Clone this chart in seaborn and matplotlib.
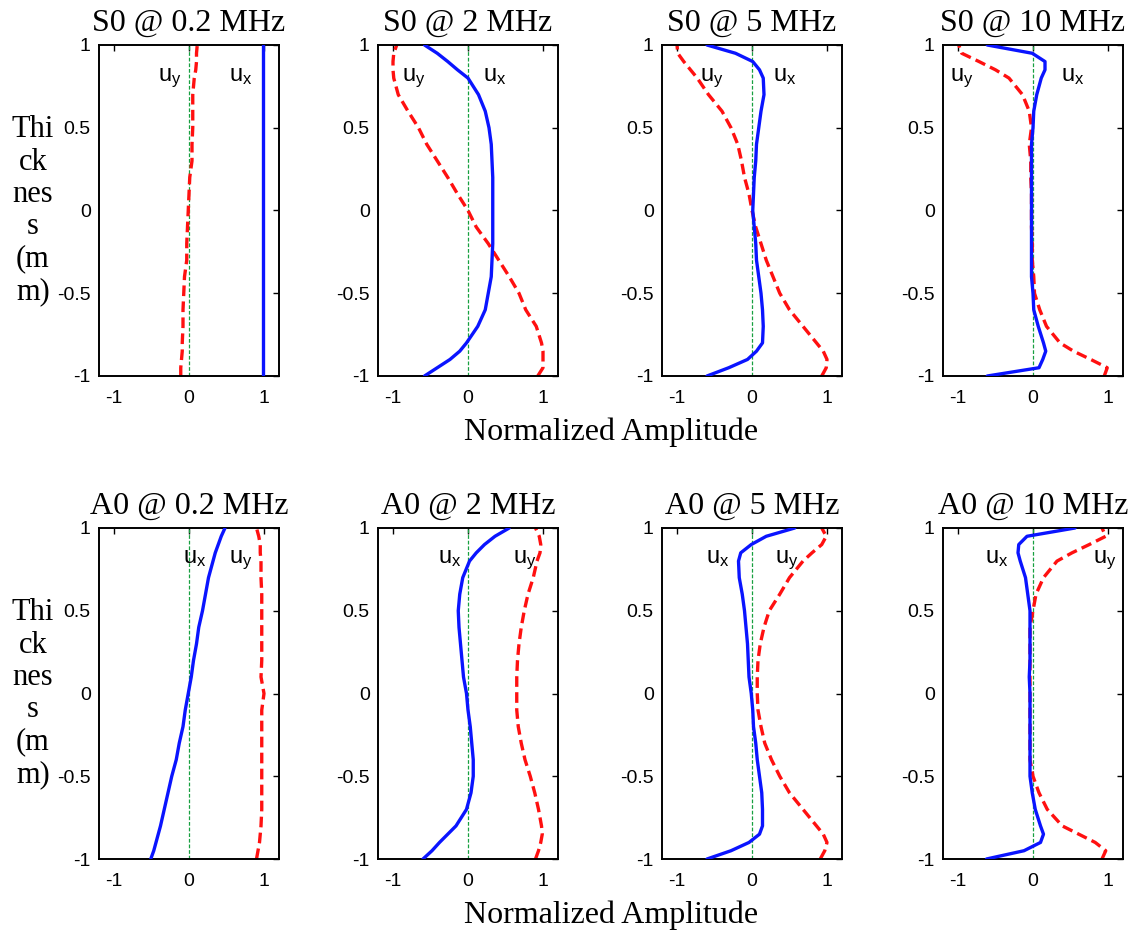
import matplotlib
matplotlib.use('Agg')
import numpy as np
import pandas as pd
import matplotlib.pyplot as plt
import seaborn as sns

# thickness levels (mm), shared by every curve
thickness = [-1, -0.95, -0.9, -0.85, -0.8, -0.7, -0.6, -0.5, -0.4, -0.3, -0.2, -0.1,
             0, 0.1, 0.2, 0.3, 0.4, 0.5, 0.6, 0.7, 0.8, 0.85, 0.9, 0.95, 1]

# S0 mode
s0_02_ux = [0.99] * 25
s0_02_uy = [-0.11, -0.11, -0.10, -0.09, -0.09, -0.08, -0.08, -0.07, -0.06, -0.03, -0.03, -0.02,
            -0.01, 0.0, 0.01, 0.04, 0.04, 0.05, 0.05, 0.05, 0.07, 0.09, 0.10, 0.10, 0.11]
s0_2_ux = [-0.58, -0.41, -0.24, -0.11, -0.02, 0.13, 0.23, 0.27, 0.31, 0.32, 0.33, 0.33,
           0.33, 0.33, 0.33, 0.32, 0.31, 0.28, 0.23, 0.14, 0.0, -0.14, -0.27, -0.41, -0.58]
s0_2_uy = [0.93, 1.0, 1.0, 1.0, 0.98, 0.91, 0.77, 0.68, 0.55, 0.41, 0.27, 0.11,
           0.0, -0.14, -0.27, -0.41, -0.55, -0.66, -0.80, -0.93, -0.99, -1.0, -1.0, -0.99, -0.95]
s0_5_ux = [-0.60, -0.31, -0.06, 0.06, 0.14, 0.15, 0.14, 0.12, 0.09, 0.06, 0.05, 0.03,
           0.01, 0.02, 0.03, 0.05, 0.06, 0.09, 0.12, 0.16, 0.15, 0.10, 0.01, -0.22, -0.60]
s0_5_uy = [0.93, 0.99, 1.0, 0.95, 0.86, 0.68, 0.50, 0.37, 0.28, 0.19, 0.12, 0.05,
           0.0, -0.04, -0.10, -0.14, -0.19, -0.28, -0.40, -0.58, -0.73, -0.82, -0.91, -0.99, -1.0]
s0_10_ux = [-0.61, 0.08, 0.13, 0.17, 0.14, 0.07, 0.01, 0.0, -0.02, -0.02, -0.02, -0.02,
            -0.02, -0.02, -0.02, -0.02, -0.02, 0.0, 0.01, 0.05, 0.11, 0.16, 0.16, -0.01, -0.61]
s0_10_uy = [0.95, 0.99, 0.77, 0.54, 0.36, 0.18, 0.09, 0.02, 0.01, -0.01, -0.01, -0.02,
            -0.02, -0.02, -0.03, -0.03, -0.05, -0.02, -0.05, -0.14, -0.32, -0.50, -0.72, -0.95, -0.99]

# A0 mode
a0_02_ux = [-0.51, -0.47, -0.44, -0.41, -0.38, -0.33, -0.28, -0.23, -0.17, -0.13, -0.08, -0.05,
            -0.01, 0.03, 0.06, 0.10, 0.13, 0.18, 0.22, 0.26, 0.32, 0.35, 0.39, 0.43, 0.48]
a0_02_uy = [0.90, 0.92, 0.94, 0.95, 0.96, 0.97, 0.97, 0.97, 0.97, 0.97, 0.97, 0.97,
            1.0, 0.96, 0.97, 0.97, 0.97, 0.97, 0.97, 0.96, 0.96, 0.95, 0.95, 0.93, 0.90]
a0_2_ux = [-0.60, -0.48, -0.38, -0.27, -0.16, -0.02, 0.04, 0.07, 0.07, 0.05, 0.03, 0.0,
           -0.02, -0.06, -0.08, -0.10, -0.12, -0.13, -0.11, -0.07, 0.02, 0.11, 0.22, 0.36, 0.55]
a0_2_uy = [0.90, 0.94, 0.97, 0.99, 0.98, 0.94, 0.89, 0.83, 0.76, 0.71, 0.67, 0.65,
           0.65, 0.65, 0.66, 0.68, 0.71, 0.75, 0.80, 0.87, 0.92, 0.96, 0.97, 0.95, 0.90]
a0_5_ux = [-0.60, -0.28, -0.04, 0.10, 0.14, 0.14, 0.13, 0.10, 0.07, 0.05, 0.02, 0.01,
           -0.01, -0.04, -0.05, -0.06, -0.08, -0.10, -0.13, -0.17, -0.18, -0.15, -0.01, 0.19, 0.57]
a0_5_uy = [0.91, 0.97, 1.0, 0.95, 0.86, 0.68, 0.50, 0.37, 0.26, 0.17, 0.12, 0.08,
           0.07, 0.07, 0.08, 0.11, 0.16, 0.23, 0.37, 0.50, 0.68, 0.80, 0.93, 0.99, 0.93]
a0_10_ux = [-0.62, -0.12, 0.10, 0.14, 0.10, 0.03, -0.01, -0.04, -0.04, -0.04, -0.04, -0.04,
            -0.04, -0.05, -0.04, -0.04, -0.04, -0.04, -0.07, -0.10, -0.17, -0.20, -0.19, -0.08, 0.56]
a0_10_uy = [0.92, 0.97, 0.83, 0.61, 0.39, 0.19, 0.08, 0.0, -0.04, -0.04, -0.04, -0.04,
            -0.04, -0.04, -0.04, -0.04, -0.04, 0.0, 0.04, 0.14, 0.32, 0.52, 0.75, 0.97, 0.92]

titles = ['S0 @ 0.2 MHz', 'S0 @ 2 MHz', 'S0 @ 5 MHz', 'S0 @ 10 MHz',
          'A0 @ 0.2 MHz', 'A0 @ 2 MHz', 'A0 @ 5 MHz', 'A0 @ 10 MHz']
ux_curves = [s0_02_ux, s0_2_ux, s0_5_ux, s0_10_ux, a0_02_ux, a0_2_ux, a0_5_ux, a0_10_ux]
uy_curves = [s0_02_uy, s0_2_uy, s0_5_uy, s0_10_uy, a0_02_uy, a0_2_uy, a0_5_uy, a0_10_uy]

# (x of u_x label, x of u_y label, baseline y)
label_pos = [(0.69, -0.26, 0.78), (0.35, -0.73, 0.78), (0.44, -0.54, 0.78), (0.53, -0.95, 0.78),
             (0.07, 0.69, 0.79), (-0.25, 0.75, 0.79), (-0.46, 0.46, 0.79), (-0.48, 0.95, 0.79)]

sns.set_theme(style='white')
plt.rcParams['font.family'] = ['Liberation Sans', 'DejaVu Sans']
plt.rcParams['mathtext.fontset'] = 'custom'
plt.rcParams['mathtext.rm'] = 'Liberation Sans'
plt.rcParams['mathtext.it'] = 'Liberation Sans'
plt.rcParams['mathtext.bf'] = 'Liberation Sans:bold'
for k in ['text.color', 'axes.labelcolor', 'xtick.color', 'ytick.color', 'axes.edgecolor']:
    plt.rcParams[k] = 'black'

fig = plt.figure(figsize=(11.32, 9.32), dpi=100)
lefts = [99, 378, 662, 943]
bottoms = [376, 859]
W, H = 1132, 932

for i in range(8):
    r, c = divmod(i, 4)
    ax = fig.add_axes([lefts[c] / W, 1 - bottoms[r] / H, 180 / W, 331 / H])
    df = pd.DataFrame({'thick': thickness, 'ux': ux_curves[i], 'uy': uy_curves[i]})
    ax.axvline(0, color='#18a040', lw=0.9, ls=(0, (3, 1.5)), zorder=1)
    sns.lineplot(data=df, x='ux', y='thick', sort=False, estimator=None, ax=ax,
                 color='#0a14ff', lw=2.4, zorder=3)
    sns.lineplot(data=df, x='uy', y='thick', sort=False, estimator=None, ax=ax,
                 color='#ff1010', lw=2.4, zorder=2, dashes=False)
    ax.lines[-1].set_dashes((3.2, 1.6))
    ax.set_xlim(-1.2, 1.2)
    ax.set_ylim(-1, 1)
    ax.set_xticks([-1, 0, 1])
    ax.set_xticklabels(['-1', '0', '1'])
    ax.set_yticks([-1, -0.5, 0, 0.5, 1])
    ax.set_yticklabels(['-1', '-0.5', '0', '0.5', '1'])
    ax.tick_params(direction='in', length=4, width=1, top=True, right=True,
                   labelsize=14, colors='black')
    ax.tick_params(axis='x', pad=10)
    ax.tick_params(axis='y', pad=6)
    for s in ax.spines.values():
        s.set_color('black')
        s.set_linewidth(1.4)
    ax.set_xlabel('')
    ax.set_title(titles[i], fontsize=23, family='Liberation Serif', pad=10, color='black')
    xx, xy, yb = label_pos[i]
    ax.text(xx, yb, '$u_x$', fontsize=17, ha='center', va='baseline', color='black')
    ax.text(xy, yb, '$u_y$', fontsize=17, ha='center', va='baseline', color='black')
    if c == 0:
        ax.set_ylabel('Thi\nck\nnes\ns\n(m\nm)', rotation=0, fontsize=22, color='black',
                      family='Liberation Serif', ha='center', va='center', linespacing=1.15)
        ax.yaxis.set_label_coords(-0.367, 0.5)
    else:
        ax.set_ylabel('')

fig.text(611 / W, 1 - 432 / H, 'Normalized Amplitude', fontsize=23, color='black',
         family='Liberation Serif', ha='center', va='center')
fig.text(611 / W, 1 - 915 / H, 'Normalized Amplitude', fontsize=23, color='black',
         family='Liberation Serif', ha='center', va='center')

fig.savefig('out.png', dpi=100)
